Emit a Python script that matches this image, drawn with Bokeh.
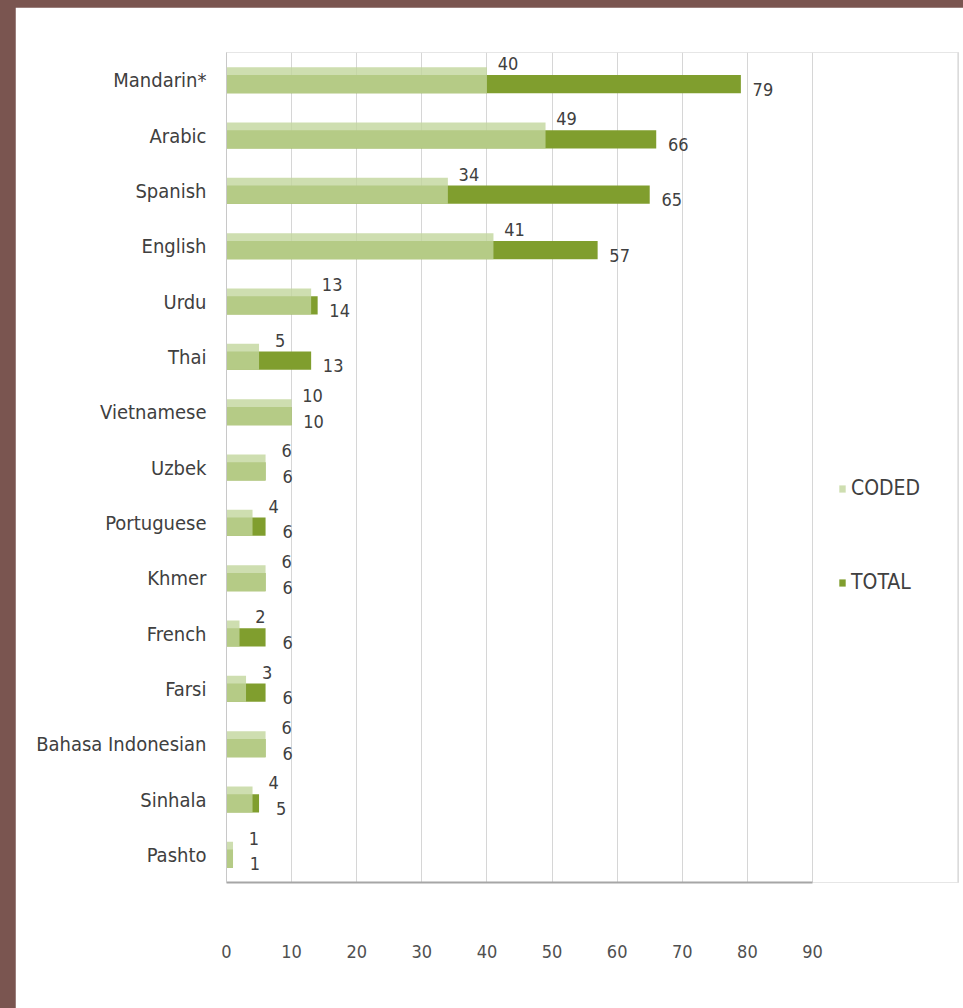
from bokeh.plotting import figure
from bokeh.models import ColumnDataSource, FactorRange, Range1d, Legend, LegendItem, Span
from bokeh.transform import dodge
from bokeh.core.properties import value
from bokeh.embed import file_html
from bokeh.resources import INLINE

languages = ["Mandarin*", "Arabic", "Spanish", "English", "Urdu", "Thai", "Vietnamese",
             "Uzbek", "Portuguese", "Khmer", "French", "Farsi", "Bahasa Indonesian",
             "Sinhala", "Pashto"]
coded = [40, 49, 34, 41, 13, 5, 10, 6, 4, 6, 2, 3, 6, 4, 1]
total = [79, 66, 65, 57, 14, 13, 10, 6, 6, 6, 6, 6, 6, 5, 1]
x_ticks = [0, 10, 20, 30, 40, 50, 60, 70, 80, 90]
series_names = ["CODED", "TOTAL"]

FONT = "'Liberation Sans Narrow', 'DejaVu Sans Condensed', 'Roboto Condensed', 'Open Sans Condensed', Roboto"
CODED_COLOR = "#c2d69c"
TOTAL_COLOR = "#809e2e"

src = ColumnDataSource(dict(
    lang=languages,
    coded=coded,
    total=total,
    coded_str=[str(v) for v in coded],
    total_str=[str(v) for v in total],
))

# frame spans 732 px; 90 units must take 586 px, so the range goes a bit past 90
X_MAX = 90
x_end = X_MAX * 732.0 / 586.0

p = figure(
    width=948, height=1001,
    y_range=FactorRange(factors=list(reversed(languages)), range_padding=0),
    x_range=Range1d(0, x_end),
    output_backend="svg", toolbar_location=None,
    min_border_left=211, min_border_right=5, min_border_top=45, min_border_bottom=126,
    background_fill_color="white", border_fill_color="white",
)
p.outline_line_color = "#e6e6e6"

r_total = p.hbar(y=dodge("lang", -0.07, range=p.y_range), left=0, right="total", height=0.33,
                 source=src, fill_color=TOTAL_COLOR, line_color=None)
r_coded = p.hbar(y=dodge("lang", 0.0, range=p.y_range), left=0, right="coded", height=0.47,
                 source=src, fill_color=CODED_COLOR, fill_alpha=0.8, line_color=None)

p.text(x="coded", y=dodge("lang", 0.3, range=p.y_range), text="coded_str", source=src,
       x_offset=21, text_align="center", text_baseline="middle",
       text_font=value(FONT), text_font_size="18px", text_color="#404040")
p.text(x="total", y=dodge("lang", -0.16, range=p.y_range), text="total_str", source=src,
       x_offset=22, text_align="center", text_baseline="middle",
       text_font=value(FONT), text_font_size="18px", text_color="#404040")

# axes
p.xaxis.ticker = x_ticks
p.xaxis.bounds = (0, X_MAX)
p.xaxis.major_tick_line_color = None
p.xaxis.minor_tick_line_color = None
p.xaxis.axis_line_color = "#a6a6a6"
p.xaxis.axis_line_width = 2
p.xaxis.major_label_standoff = 56
p.xaxis.major_label_text_font = FONT
p.xaxis.major_label_text_font_size = "18px"
p.xaxis.major_label_text_color = "#505050"

p.yaxis.major_tick_line_color = None
p.yaxis.minor_tick_line_color = None
p.yaxis.axis_line_color = "#c8c8c8"
p.yaxis.major_label_standoff = 14
p.yaxis.major_label_text_font = FONT
p.yaxis.major_label_text_font_size = "20px"
p.yaxis.major_label_text_color = "#404040"

p.xgrid.grid_line_color = "#d6d6d6"
p.ygrid.grid_line_color = None

# faint chart-area edge at the right
p.add_layout(Span(location=x_end, dimension="height", line_color="#cfcfcf", line_width=2))

legend = Legend(
    items=[LegendItem(label=series_names[0], renderers=[r_coded]),
           LegendItem(label=series_names[1], renderers=[r_total])],
    location=(612, 288), orientation="vertical",
    glyph_width=8, glyph_height=9, label_height=22, spacing=70,
    padding=0, margin=0, border_line_color=None, background_fill_alpha=0,
    label_text_font=FONT, label_text_font_size="21px", label_text_color="#404040",
    label_standoff=5,
)
p.add_layout(legend, "center")

html = file_html(p, INLINE)
style = "<style>html,body{margin:0;background-color:#7a5550;}body{padding:7px 0 0 15px;box-sizing:border-box;}</style>"
html = html.replace("</head>", style + "</head>", 1)
open("out.html", "w").write(html)
